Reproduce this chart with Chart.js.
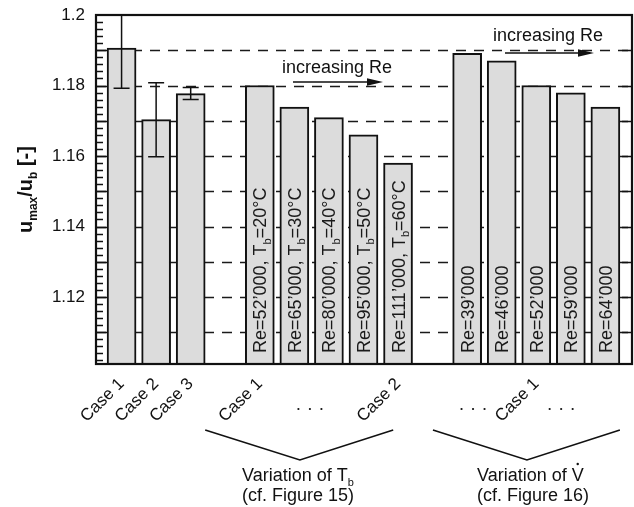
<!DOCTYPE html>
<html>
<head>
<meta charset="utf-8">
<script src="https://cdn.jsdelivr.net/npm/chart.js@4.4.1/dist/chart.umd.min.js"></script>
<style>
  html, body { margin: 0; padding: 0; background: #fff; }
  canvas { display: block; }
</style>
</head>
<body>
<canvas id="chart" width="634" height="507"></canvas>
<script>
// x positions of the bars (3 and 9 are left empty between the groups)
const barPos = [0, 1, 2, 4, 5, 6, 7, 8, 10, 11, 12, 13, 14];
// u_max / u_b for every case
const ratio = [1.1906, 1.1703, 1.1777, 1.1800, 1.1739, 1.1709, 1.1660, 1.1580, 1.1891, 1.1870, 1.1800, 1.1779, 1.1739];
// +/- uncertainty (only the three reference cases have one)
const ratioErr = [0.0114, 0.0105, 0.0017, 0, 0, 0, 0, 0, 0, 0, 0, 0, 0];
// text written inside the bars, _{..} = subscript
const barText = [
  '', '', '',
  'Re=52’000, T_{b}=20°C',
  'Re=65’000, T_{b}=30°C',
  'Re=80’000, T_{b}=40°C',
  'Re=95’000, T_{b}=50°C',
  'Re=111’000, T_{b}=60°C',
  'Re=39’000',
  'Re=46’000',
  'Re=52’000',
  'Re=59’000',
  'Re=64’000'
];
// case names under the axis
const caseTickPos = [0, 1, 2, 4, 8, 12];
const caseLabels = ['Case 1', 'Case 2', 'Case 3', 'Case 1', 'Case 2', 'Case 1'];
// y axis
const yTicks = [1.12, 1.14, 1.16, 1.18, 1.2];
const yMin = 1.101;
const yMax = 1.2;

const FONT = '"Liberation Sans", Arial, Helvetica, sans-serif';

// draws a string with _{..} subscripts, returns its width
function richText(ctx, str, x, y, size, weight, draw) {
  const parts = str.split(/(_\{[^}]*\})/).filter(Boolean);
  let cx = x;
  for (const p of parts) {
    const sub = p.startsWith('_{');
    const t = sub ? p.slice(2, -1) : p;
    const fs = sub ? Math.round(size * 0.62) : size;
    ctx.font = `${weight} ${fs}px ${FONT}`;
    if (draw !== false) ctx.fillText(t, cx, sub ? y + size * 0.25 : y);
    cx += ctx.measureText(t).width;
  }
  return cx - x;
}

function arrow(ctx, x1, x2, y) {
  ctx.beginPath();
  ctx.moveTo(x1, y);
  ctx.lineTo(x2 - 12, y);
  ctx.lineWidth = 1.6;
  ctx.stroke();
  ctx.beginPath();
  ctx.moveTo(x2, y);
  ctx.lineTo(x2 - 16, y - 3.8);
  ctx.lineTo(x2 - 16, y + 3.8);
  ctx.closePath();
  ctx.fill();
}

const decorations = {
  id: 'decorations',
  beforeDatasetsDraw(chart) {
    const { ctx, chartArea: a, scales: { y } } = chart;
    ctx.save();
    ctx.strokeStyle = '#1a1a1a';
    ctx.lineWidth = 1.3;
    ctx.setLineDash([10, 8]);
    for (let k = 11; k <= 19; k++) {
      const py = Math.round(y.getPixelForValue(1 + k / 100)) + 0.5;
      ctx.beginPath();
      ctx.moveTo(a.left, py);
      ctx.lineTo(a.right, py);
      ctx.stroke();
    }
    ctx.restore();
  },
  afterDatasetsDraw(chart) {
    const { ctx, chartArea: a, scales: { y } } = chart;
    const bars = chart.getDatasetMeta(0).data;
    ctx.save();
    ctx.strokeStyle = '#111';
    ctx.fillStyle = '#111';

    // error bars
    ctx.save();
    ctx.beginPath();
    ctx.rect(a.left, a.top, a.right - a.left, a.bottom - a.top);
    ctx.clip();
    ctx.lineWidth = 1.5;
    ratio.forEach((v, i) => {
      if (!ratioErr[i]) return;
      const x = bars[i].x;
      const y1 = y.getPixelForValue(v - ratioErr[i]);
      const y2 = y.getPixelForValue(v + ratioErr[i]);
      ctx.beginPath();
      ctx.moveTo(x, y1); ctx.lineTo(x, y2);
      ctx.moveTo(x - 8, y1); ctx.lineTo(x + 8, y1);
      ctx.moveTo(x - 8, y2); ctx.lineTo(x + 8, y2);
      ctx.stroke();
    });
    ctx.restore();

    // labels inside the bars
    ctx.fillStyle = '#1a1a1a';
    ctx.textBaseline = 'alphabetic';
    ctx.textAlign = 'left';
    barText.forEach((t, i) => {
      if (!t) return;
      ctx.save();
      ctx.translate(bars[i].x + 6.5, a.bottom - 11);
      ctx.rotate(-Math.PI / 2);
      richText(ctx, t, 0, 0, 18, 'normal');
      ctx.restore();
    });

    // tick marks inside the frame
    ctx.fillStyle = '#111';
    ctx.lineWidth = 1.5;
    for (let k = 551; k <= 599; k++) {
      const v = k / 500;
      const py = Math.round(y.getPixelForValue(v)) + 0.5;
      const major = k % 5 === 0;
      ctx.beginPath();
      ctx.moveTo(a.left, py);
      ctx.lineTo(a.left + (major ? 11 : 7), py);
      if (major) {
        ctx.moveTo(a.right, py);
        ctx.lineTo(a.right - 10, py);
      }
      ctx.stroke();
    }

    // frame
    ctx.lineWidth = 2.2;
    ctx.strokeRect(a.left, a.top, a.right - a.left, a.bottom - a.top);
    ctx.restore();
  },
  afterDraw(chart) {
    const { ctx, chartArea: a, scales: { x } } = chart;
    ctx.save();
    ctx.fillStyle = '#111';
    ctx.strokeStyle = '#111';
    ctx.textBaseline = 'alphabetic';
    ctx.textAlign = 'left';

    // y axis title
    ctx.save();
    ctx.translate(32, (a.top + a.bottom) / 2);
    ctx.rotate(-Math.PI / 2);
    const title = 'u_{max}/u_{b} [-]';
    const tw = richText(ctx, title, 0, 0, 20, 'bold', false);
    richText(ctx, title, -tw / 2, 0, 20, 'bold');
    ctx.restore();

    // "increasing Re" arrows
    ctx.font = `18px ${FONT}`;
    ctx.fillText('increasing Re', 282, 73);
    arrow(ctx, 293, 383, 82);
    ctx.fillText('increasing Re', 493, 41);
    arrow(ctx, 505, 594, 53);

    // dots between the case names
    [5.45, 10.17, 12.72].forEach(v => {
      const px = x.getPixelForValue(v);
      for (let d = -1; d <= 1; d++) {
        ctx.beginPath();
        ctx.arc(px + d * 11.5, 409, 1.1, 0, Math.PI * 2);
        ctx.fill();
      }
    });

    // brackets below the two variation groups
    ctx.lineWidth = 1.6;
    [[2.42, 5.16, 7.86], [9.01, 11.73, 14.42]].forEach(([l, m, r]) => {
      ctx.beginPath();
      ctx.moveTo(x.getPixelForValue(l), 430);
      ctx.lineTo(x.getPixelForValue(m), 460);
      ctx.lineTo(x.getPixelForValue(r), 430);
      ctx.stroke();
    });

    const lx = 242, rx = 477;
    richText(ctx, 'Variation of T_{b}', lx, 481, 18, 'normal');
    richText(ctx, '(cf. Figure 15)', lx, 501, 18, 'normal');
    const vw = richText(ctx, 'Variation of V', rx, 481, 18, 'normal');
    ctx.beginPath();
    ctx.arc(rx + vw - 6, 464, 1.2, 0, Math.PI * 2);
    ctx.fill();
    richText(ctx, '(cf. Figure 16)', rx, 501, 18, 'normal');
    ctx.restore();
  }
};

new Chart(document.getElementById('chart'), {
  type: 'bar',
  data: {
    datasets: [{
      data: barPos.map((p, i) => ({ x: p, y: ratio[i] })),
      backgroundColor: '#dcdcdc',
      borderColor: '#111',
      borderWidth: 2,
      barThickness: 29
    }]
  },
  options: {
    responsive: false,
    animation: false,
    layout: { padding: { top: 15, right: 2, left: 0, bottom: 0 } },
    plugins: { legend: { display: false }, tooltip: { enabled: false } },
    scales: {
      x: {
        type: 'linear',
        offset: false,
        min: -0.74,
        max: 14.77,
        grid: { display: false, drawTicks: false },
        border: { display: false },
        afterBuildTicks: s => { s.ticks = caseTickPos.map(v => ({ value: v })); },
        afterFit: s => { s.height = 143; s.paddingLeft = 0; s.paddingRight = 0; },
        ticks: {
          autoSkip: false,
          minRotation: 45,
          maxRotation: 45,
          padding: 10,
          color: '#111',
          font: { family: FONT, size: 17 },
          callback: v => caseLabels[caseTickPos.indexOf(v)] || ''
        }
      },
      y: {
        min: yMin,
        max: yMax,
        grid: { display: false, drawTicks: false },
        border: { display: false },
        afterBuildTicks: s => { s.ticks = yTicks.map(v => ({ value: v })); },
        afterFit: s => { s.width = 96; s.paddingTop = 0; s.paddingBottom = 0; },
        ticks: {
          padding: 11,
          color: '#111',
          font: { family: FONT, size: 17 },
          callback: v => String(+v.toFixed(2))
        }
      }
    }
  },
  plugins: [decorations]
});
</script>
</body>
</html>
